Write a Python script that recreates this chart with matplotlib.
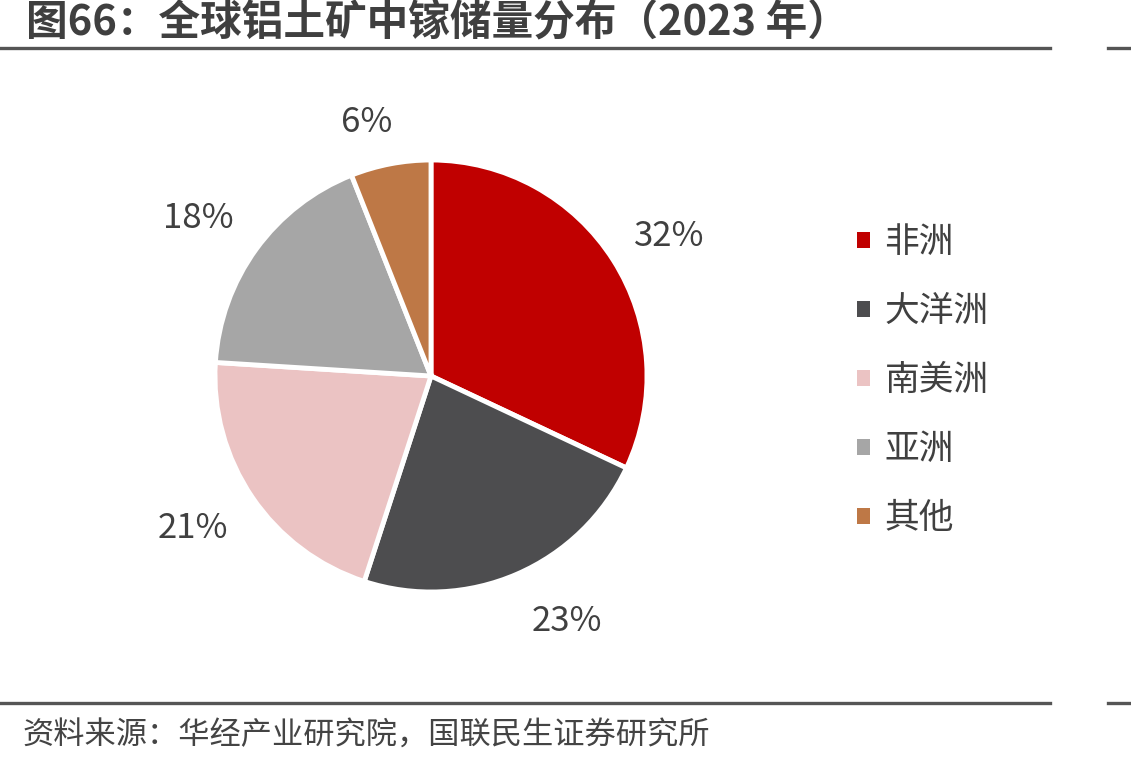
import matplotlib
matplotlib.use('Agg')
import numpy as np
import matplotlib.pyplot as plt
from matplotlib.patches import Patch
from matplotlib.lines import Line2D

plt.rcParams['font.family'] = ['Noto Sans CJK SC', 'DejaVu Sans']

regions = ['非洲', '大洋洲', '南美洲', '亚洲', '其他']
shares = [32, 23, 21, 18, 6]
colors = ['#C00000', '#4D4D4F', '#EBC3C3', '#A6A6A6', '#BE7846']
title = '图66：全球铝土矿中镓储量分布（2023 年）'
source = '资料来源：华经产业研究院，国联民生证券研究所'
txt = '#404040'

# label placement tweaks (like Excel "best fit"): radial distance, angle shift in degrees
lab_dist = [1.28, 1.30, 1.31, 1.30, 1.21]
lab_shift = [-2, 5.5, -1.5, 2, 3.5]

W, H = 1131, 765
fig = plt.figure(figsize=(W / 100, H / 100), dpi=100)

# pie axes: centre (431, 376) px, radius 216 px
cx, cy, r, half = 431, 376, 216, 320
ax = fig.add_axes([(cx - half) / W, (H - cy - half) / H, 2 * half / W, 2 * half / H])

wedges, _ = ax.pie(shares, colors=colors, startangle=90, counterclock=False, radius=1,
                   wedgeprops=dict(edgecolor='white', linewidth=3.5))
for w, v, d, s in zip(wedges, shares, lab_dist, lab_shift):
    a = np.deg2rad((w.theta1 + w.theta2) / 2 + s)
    ax.text(d * np.cos(a), d * np.sin(a), f'{v}%', fontsize=25, color=txt,
            ha='center', va='center')
ax.set_xlim(-half / r, half / r)
ax.set_ylim(-half / r, half / r)
ax.set_aspect('equal')
ax.axis('off')

handles = [Patch(facecolor=c, edgecolor='none') for c in colors]
fig.legend(handles, regions, loc='upper left', bbox_to_anchor=(840 / W, 1 - 208 / H),
           frameon=False, fontsize=25, labelcolor=txt, handlelength=0.36, handleheight=0.36,
           handletextpad=0.42, labelspacing=0.98, borderpad=0)

# title and rules
fig.text(26 / W, 1 - 23 / H, title, fontsize=30, fontweight='bold', color='#3F3F3F',
         ha='left', va='center')
for y in (48, 703):
    fig.add_artist(Line2D([0, 1050 / W], [1 - y / H] * 2, color='#555555', lw=2.4))
    fig.add_artist(Line2D([1108 / W, 1], [1 - y / H] * 2, color='#555555', lw=2.4))
fig.text(22 / W, 1 - 736 / H, source, fontsize=22.5, color='#444444', ha='left', va='center')

fig.savefig('out.png', dpi=100)
